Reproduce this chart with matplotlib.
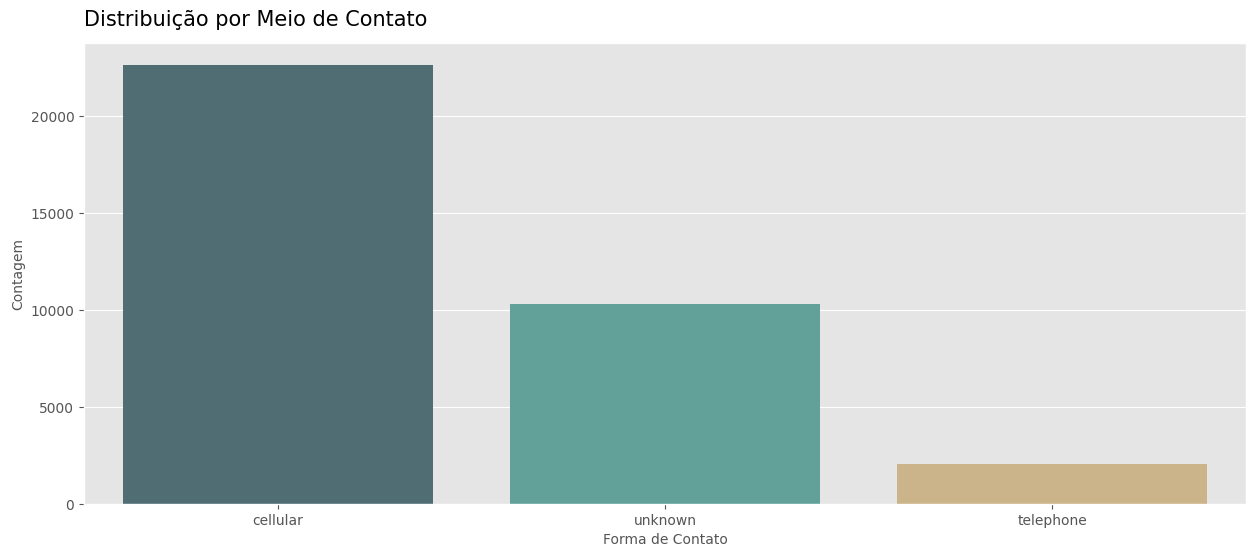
import matplotlib
matplotlib.use('Agg')

import matplotlib.pyplot as plt

# data
categories = ["cellular", "unknown", "telephone"]
counts = [22680, 10300, 2060]
colors = ["#4f6d72", "#62a199", "#cbb48a"]

plt.style.use("ggplot")

fig = plt.figure(figsize=(12.56, 5.57), dpi=100)
ax = fig.add_axes([84 / 1256, 1 - 504 / 557, (1246 - 84) / 1256, (504 - 43) / 557])

ax.bar(categories, counts, color=colors, width=0.8)

ax.set_xlim(-0.5, 2.5)
ax.set_ylim(0, 23790)
ax.set_xlabel("Forma de Contato", fontsize=10, color="#555555")
ax.set_ylabel("Contagem", fontsize=10, color="#555555")
ax.set_title("Distribuição por Meio de Contato", loc="left", fontsize=15, color="black", pad=12)
ax.grid(axis="x", visible=False)
ax.tick_params(labelsize=10)

plt.savefig("out.png")
